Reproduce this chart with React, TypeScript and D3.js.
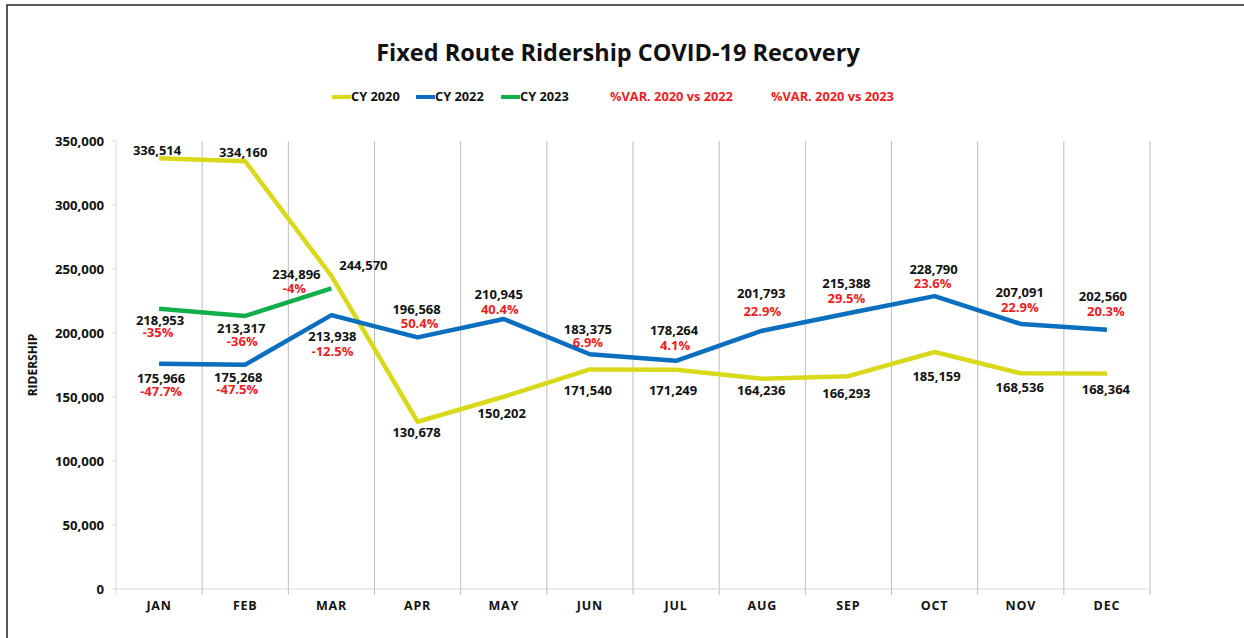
import React from "react";
import * as d3 from "d3";

const months = ["JAN", "FEB", "MAR", "APR", "MAY", "JUN", "JUL", "AUG", "SEP", "OCT", "NOV", "DEC"];
const cy2020 = [336514, 334160, 244570, 130678, 150202, 171540, 171249, 164236, 166293, 185159, 168536, 168364];
const cy2022 = [175966, 175268, 213938, 196568, 210945, 183375, 178264, 201793, 215388, 228790, 207091, 202560];
const cy2023 = [218953, 213317, 234896];
const var2022 = ["-47.7%", "-47.5%", "-12.5%", "50.4%", "40.4%", "6.9%", "4.1%", "22.9%", "29.5%", "23.6%", "22.9%", "20.3%"];
const var2023 = ["-35%", "-36%", "-4%"];
const yTicks = [0, 50000, 100000, 150000, 200000, 250000, 300000, 350000];

// label offsets (dx, dy) relative to data point
const off2020: [number, number][] = [[-2, -8], [-2, -9], [32, -11], [-1, 11], [-2, 17], [-2, 21], [-3, 21], [-1, 12], [-2, 17], [2, 24], [-1, 14], [-1, 16]];
const off2022: [number, number, number, number][] = [
  [2, 15, 2, 28], [-7, 13, -8, 25], [1, 21, 1, 36], [-1, -28, 2, -14], [-5, -25, -4, -10], [-2, -25, -2, -12],
  [-2, -30, -1, -15], [-1, -37, 0, -19], [-2, -30, -2, -15], [-1, -27, -2, -13], [-1, -31, -1, -16], [-4, -33, -1, -18]];
const off2023: [number, number, number, number][] = [[1, 12, -1, 24], [-4, 12, -3, 25], [-35, -14, -37, 0]];

const YELLOW = "#D9D91C";
const BLUE = "#0A6FBF";
const GREEN = "#12AE4C";
const RED = "#EE1C25";
const FONT = "'Open Sans', 'DejaVu Sans', sans-serif";

export default function App() {
  const W = 1244, H = 638;
  const x = d3.scaleBand<string>().domain(months).range([116, 1150]).paddingInner(0).paddingOuter(0);
  const cx = (i: number) => (x(months[i]) as number) + x.bandwidth() / 2;
  const y = d3.scaleLinear().domain([0, 350000]).range([589, 141]);
  const line = d3.line<number>().x((_, i) => cx(i)).y((d) => y(d));
  const fmt = d3.format(",");
  const boundaries = months.map((m) => (x(m) as number) + x.bandwidth());

  const labelStyle = { fontFamily: FONT, fontWeight: 700, fontSize: 13 } as const;

  const legend = [
    { kind: "line", color: YELLOW, label: "CY 2020", x: 332 },
    { kind: "line", color: BLUE, label: "CY 2022", x: 416 },
    { kind: "line", color: GREEN, label: "CY 2023", x: 501 },
    { kind: "text", color: RED, label: "%VAR. 2020 vs 2022", x: 610 },
    { kind: "text", color: RED, label: "%VAR. 2020 vs 2023", x: 771 },
  ];

  return (
    <div style={{ position: "absolute", left: 0, top: 0 }}>
      <svg width={W} height={H} style={{ display: "block", background: "#fff" }}>
        <rect x={7} y={5} width={W + 20} height={H + 20} fill="none" stroke="#222" strokeWidth={1.5} />
        <text x={618} y={61} textAnchor="middle" fontFamily={FONT} fontWeight={700} fontSize={23.5} fill="#111">
          Fixed Route Ridership COVID-19 Recovery
        </text>
        {legend.map((l) => (
          <g key={l.label}>
            {l.kind === "line" && <line x1={l.x} x2={l.x + 19} y1={97} y2={97} stroke={l.color} strokeWidth={4} />}
            <text x={l.kind === "line" ? l.x + 19 : l.x} y={97} dy="0.35em" fontFamily={FONT} fontWeight={700} fontSize={12.8} fill={l.kind === "line" ? "#111" : l.color}>
              {l.label}
            </text>
          </g>
        ))}
        {/* y axis line */}
        <line x1={116} x2={116} y1={141} y2={589} stroke="#d9d9d9" strokeWidth={1} />
        {yTicks.map((t) => (
          <g key={t}>
            <line x1={112} x2={116} y1={y(t)} y2={y(t)} stroke="#d9d9d9" />
            <text x={104} y={y(t)} dy="0.35em" textAnchor="end" {...labelStyle} fontSize={13.2} fill="#111">
              {fmt(t)}
            </text>
          </g>
        ))}
        {/* vertical gridlines */}
        {boundaries.map((b, i) => (
          <line key={i} x1={b} x2={b} y1={141} y2={595} stroke="#bdbdbd" strokeWidth={1} />
        ))}
        {/* x axis */}
        <line x1={116} x2={1150} y1={589} y2={589} stroke="#d9d9d9" strokeWidth={1} />
        <line x1={116} x2={116} y1={589} y2={595} stroke="#d9d9d9" />
        {months.map((m, i) => (
          <text key={m} x={cx(i)} y={606} dy="0.35em" textAnchor="middle" {...labelStyle} fontSize={12.5} fill="#111" letterSpacing={0.8}>
            {m}
          </text>
        ))}
        <text transform={`translate(33,365) rotate(-90)`} textAnchor="middle" dy="0.35em" {...labelStyle} fontSize={12} fill="#111">
          RIDERSHIP
        </text>
        {/* lines */}
        <path d={line(cy2020) as string} fill="none" stroke={YELLOW} strokeWidth={4.5} strokeLinejoin="round" />
        <path d={line(cy2022) as string} fill="none" stroke={BLUE} strokeWidth={4.5} strokeLinejoin="round" />
        <path d={line(cy2023) as string} fill="none" stroke={GREEN} strokeWidth={4.5} strokeLinejoin="round" />
        {/* labels */}
        {cy2020.map((v, i) => (
          <text key={"a" + i} x={cx(i) + off2020[i][0]} y={y(v) + off2020[i][1]} dy="0.35em" textAnchor="middle" {...labelStyle} fill="#111">
            {fmt(v)}
          </text>
        ))}
        {cy2022.map((v, i) => (
          <g key={"b" + i}>
            <text x={cx(i) + off2022[i][0]} y={y(v) + off2022[i][1]} dy="0.35em" textAnchor="middle" {...labelStyle} fill="#111">
              {fmt(v)}
            </text>
            <text x={cx(i) + off2022[i][2]} y={y(v) + off2022[i][3]} dy="0.35em" textAnchor="middle" {...labelStyle} fill={RED}>
              {var2022[i]}
            </text>
          </g>
        ))}
        {cy2023.map((v, i) => (
          <g key={"c" + i}>
            <text x={cx(i) + off2023[i][0]} y={y(v) + off2023[i][1]} dy="0.35em" textAnchor="middle" {...labelStyle} fill="#111">
              {fmt(v)}
            </text>
            <text x={cx(i) + off2023[i][2]} y={y(v) + off2023[i][3]} dy="0.35em" textAnchor="middle" {...labelStyle} fill={RED}>
              {var2023[i]}
            </text>
          </g>
        ))}
      </svg>
    </div>
  );
}
